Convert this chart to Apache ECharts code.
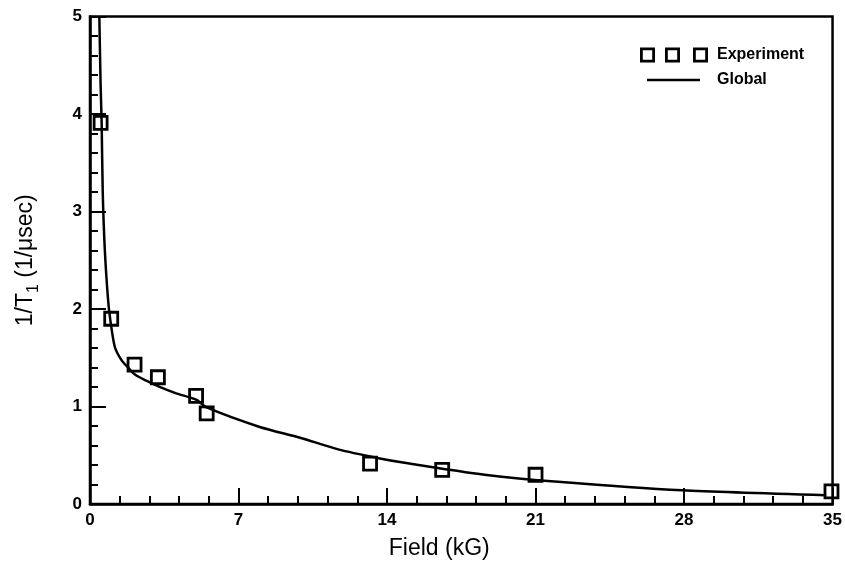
<!DOCTYPE html>
<html>
<head>
<meta charset="utf-8">
<title>1/T1 vs Field</title>
<script src="https://cdn.jsdelivr.net/npm/echarts@6/dist/echarts.min.js"></script>
<style>
  html, body { margin: 0; padding: 0; background: #fff; }
  #chart { width: 845px; height: 568px; }
</style>
</head>
<body>
<div id="chart"></div>
<script>
// Measured relaxation rates
const expField = [0.5, 1.0, 2.1, 3.2, 5.0, 5.5, 13.2, 16.6, 21.0, 34.95];
const expRate  = [3.91, 1.9, 1.43, 1.30, 1.11, 0.93, 0.415, 0.35, 0.30, 0.13];

// Global fit curve
const fitField = [0.44, 0.5, 0.55, 0.6, 0.7, 0.85, 0.95, 1.17, 1.5, 1.8, 2.1, 2.6, 3.2, 4.0, 5.0, 5.5, 8.0, 9.9, 11.7, 13.6, 14.9, 18.6, 21.9, 27.9, 34.7];
const fitRate  = [5.0, 4.3, 3.9, 3.2, 2.6, 2.1, 1.9, 1.61, 1.47, 1.40, 1.33, 1.27, 1.21, 1.14, 1.07, 0.99, 0.79, 0.68, 0.56, 0.47, 0.42, 0.30, 0.23, 0.14, 0.09];

// Axis ticks
const xTicks = [0, 7, 14, 21, 28, 35];
const yTicks = [0, 1, 2, 3, 4, 5];

const FONT = '"Liberation Sans", Arial, Helvetica, sans-serif';

const chart = echarts.init(document.getElementById('chart'), null, { renderer: 'canvas' });

// Legend glyph: three hollow squares in a row
const threeSquares =
  'path://M0,0H15V15H0Z M2.8,2.8V12.2H12.2V2.8Z ' +
  'M25,0H40V15H25Z M27.8,2.8V12.2H37.2V2.8Z ' +
  'M53,0H68V15H53Z M55.8,2.8V12.2H65.2V2.8Z';

chart.setOption({
  animation: false,
  backgroundColor: '#fff',
  textStyle: { fontFamily: FONT, color: '#000' },
  grid: {
    left: 90, right: 10, top: 16.5, bottom: 64,
    show: true, borderColor: '#000', borderWidth: 2.5, backgroundColor: 'transparent'
  },
  legend: [
    {
      data: [{ name: 'Experiment', icon: threeSquares, itemStyle: { color: '#000', borderWidth: 0 } }],
      left: 640, top: 47, itemWidth: 68, itemHeight: 15, itemGap: 0, padding: 0,
      textStyle: { fontFamily: FONT, fontSize: 16, fontWeight: 'bold', color: '#000', padding: [0, 0, 0, 4] },
      selectedMode: false
    },
    {
      data: [{ name: 'Global', icon: 'rect', itemStyle: { color: '#000', borderWidth: 0 } }],
      left: 647, top: 72, itemWidth: 53, itemHeight: 2.5, itemGap: 0, padding: 0,
      textStyle: { fontFamily: FONT, fontSize: 16, fontWeight: 'bold', color: '#000', padding: [0, 0, 0, 12] },
      selectedMode: false
    }
  ],
  xAxis: {
    type: 'value',
    min: xTicks[0], max: xTicks[xTicks.length - 1], interval: xTicks[1] - xTicks[0],
    name: 'Field (kG)',
    nameLocation: 'middle', nameGap: 33,
    nameTextStyle: { fontFamily: FONT, fontSize: 23, color: '#000', padding: [0, 44, 0, 0] },
    axisLine: { show: true, onZero: false, lineStyle: { color: '#000', width: 2.5 } },
    axisTick: { show: true, inside: true, length: 16, lineStyle: { color: '#000', width: 2 } },
    minorTick: { show: true, splitNumber: 5, length: 8, lineStyle: { color: '#000', width: 2 } },
    splitLine: { show: false },
    axisLabel: { fontFamily: FONT, fontSize: 17, fontWeight: 'bold', color: '#000', margin: 8 }
  },
  yAxis: {
    type: 'value',
    min: yTicks[0], max: yTicks[yTicks.length - 1], interval: yTicks[1] - yTicks[0],
    name: '{a|1/T}{s|1}{a| (1/μsec)}',
    nameLocation: 'middle', nameGap: 48, nameRotate: 90,
    nameTextStyle: {
      fontFamily: FONT, color: '#000',
      rich: {
        a: { fontFamily: FONT, fontSize: 23, color: '#000', lineHeight: 32, verticalAlign: 'middle' },
        s: { fontFamily: FONT, fontSize: 16, color: '#000', lineHeight: 32, verticalAlign: 'bottom' }
      }
    },
    axisLine: { show: true, onZero: false, lineStyle: { color: '#000', width: 2.5 } },
    axisTick: { show: true, inside: true, length: 16, lineStyle: { color: '#000', width: 2 } },
    minorTick: { show: true, splitNumber: 5, length: 8, lineStyle: { color: '#000', width: 2 } },
    splitLine: { show: false },
    axisLabel: { fontFamily: FONT, fontSize: 17, fontWeight: 'bold', color: '#000', margin: 8 }
  },
  series: [
    {
      name: 'Global',
      type: 'line',
      data: fitField.map((x, i) => [x, fitRate[i]]),
      showSymbol: false,
      smooth: 0.25,
      clip: true,
      lineStyle: { color: '#000', width: 2.5 },
      itemStyle: { color: '#000' },
      z: 2
    },
    {
      name: 'Experiment',
      type: 'scatter',
      data: expField.map((x, i) => [x, expRate[i]]),
      symbol: 'rect',
      symbolSize: 13,
      clip: false,
      itemStyle: { color: 'rgba(0,0,0,0)', borderColor: '#000', borderWidth: 2.8, opacity: 1 },
      z: 3
    }
  ]
});
</script>
</body>
</html>
